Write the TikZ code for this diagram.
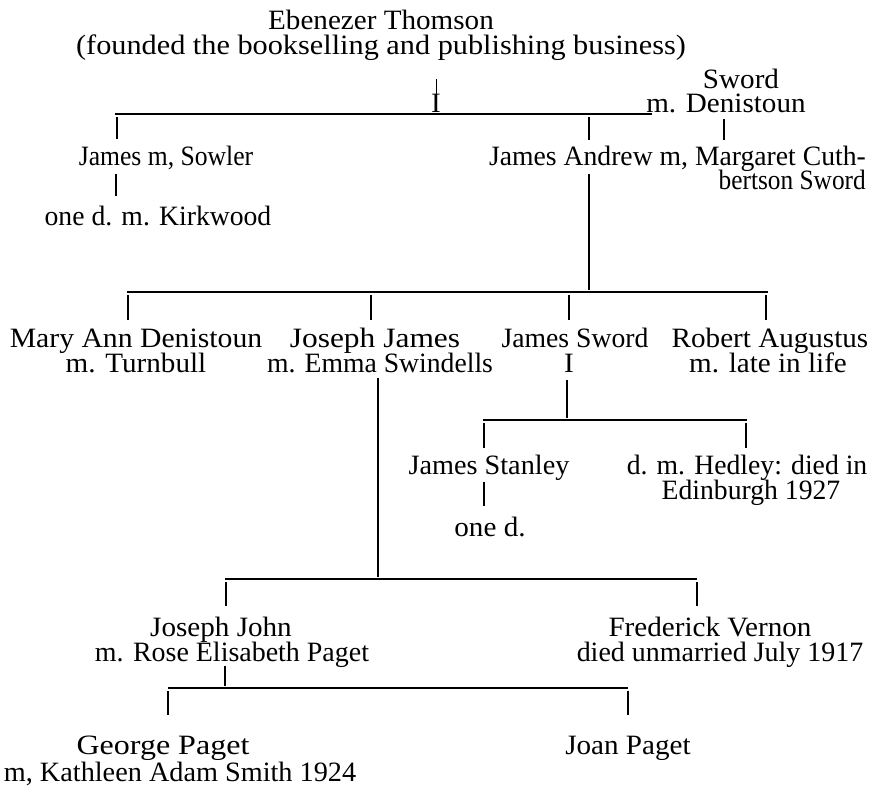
\documentclass[tikz,border=0pt]{standalone}
\usepackage{fontspec}
\setmainfont{Liberation Serif}[FakeStretch=1.04]
\begin{document}
\begin{tikzpicture}[x=1pt,y=-1pt,
  txt/.style={anchor=base,inner sep=0pt,font=\fontsize{28}{26}\selectfont},
  ln/.style={line width=1.4pt},
  thinln/.style={line width=0.7pt}]
\useasboundingbox[fill=white] (0,0) rectangle (873,799);
% texts
\node[txt] (eb) at (381,30) {Ebenezer Thomson};
\node[txt] (fo) at (381,55) {\scalebox{1.04}[1]{(founded the bookselling and publishing business)}};
\node[txt] (sw) at (741,89) {Sword};
\node[txt] (md) at (726,113) {m. Denistoun};
\node[txt] (i1) at (436,113) {I};
\node[txt] (jms) at (166,166) {\scalebox{0.88}[1]{James m, Sowler}};
\node[txt,anchor=base east] (ja) at (866,166) {\scalebox{0.95}[1]{James Andrew m, Margaret Cuth-}};
\node[txt,anchor=base east] (ja2) at (866,190) {\scalebox{0.87}[1]{bertson Sword}};
\node[txt] (kw) at (158,226) {\scalebox{0.95}[1]{one d. m. Kirkwood}};
\node[txt] (ma) at (136,348) {\scalebox{1.02}[1]{Mary Ann Denistoun}};
\node[txt] (ma2) at (136,373) {m. Turnbull};
\node[txt] (jj) at (375,348) {\scalebox{1.08}[1]{Joseph James}};
\node[txt] (jj2) at (380,373) {\scalebox{0.95}[1]{m. Emma Swindells}};
\node[txt] (js) at (575,348) {\scalebox{0.95}[1]{James Sword}};
\node[txt] (i2) at (569,373) {I};
\node[txt] (ra) at (770,348) {Robert Augustus};
\node[txt] (ra2) at (768,373) {m. late in life};
\node[txt] (jst) at (489,475) {\scalebox{0.97}[1]{James Stanley}};
\node[txt] (dh) at (747,475) {\scalebox{0.95}[1]{d. m. Hedley: died in}};
\node[txt] (dh2) at (751,499) {\scalebox{0.95}[1]{Edinburgh 1927}};
\node[txt] (od) at (490,536) {one d.};
\node[txt] (jo) at (221,636) {Joseph John};
\node[txt] (jo2) at (232,661) {\scalebox{0.96}[1]{m. Rose Elisabeth Paget}};
\node[txt] (fv) at (710,636) {Frederick Vernon};
\node[txt] (fv2) at (720,661) {\scalebox{0.96}[1]{died unmarried July 1917}};
\node[txt] (gp) at (163,754) {\scalebox{1.1}[1]{George Paget}};
\node[txt] (gp2) at (180,781) {\scalebox{0.97}[1]{m, Kathleen Adam Smith 1924}};
\node[txt] (jp) at (628,754) {Joan Paget};
% coordinates
\coordinate (t1a) at (436,79);  \coordinate (t1b) at (436,95);
\coordinate (b1l) at (115,114); \coordinate (b1r) at (652,114);
\coordinate (v1a) at (117,117); \coordinate (v1b) at (117,139);
\coordinate (v2a) at (589,117); \coordinate (v2b) at (589,140);
\coordinate (v3a) at (724,119); \coordinate (v3b) at (724,140);
\coordinate (v4a) at (116,174); \coordinate (v4b) at (116,196);
\coordinate (v5a) at (589,174); \coordinate (v5b) at (589,290);
\coordinate (b2l) at (127,292); \coordinate (b2r) at (768,292);
\coordinate (v6a) at (128,295); \coordinate (v6b) at (128,320);
\coordinate (v7a) at (371,295); \coordinate (v7b) at (371,320);
\coordinate (v8a) at (569,295); \coordinate (v8b) at (569,320);
\coordinate (v9a) at (766,295); \coordinate (v9b) at (766,320);
\coordinate (v10a) at (378,378); \coordinate (v10b) at (378,577);
\coordinate (v11a) at (567,380); \coordinate (v11b) at (567,418);
\coordinate (b3l) at (483,420); \coordinate (b3r) at (747,420);
\coordinate (v12a) at (484,423); \coordinate (v12b) at (484,448);
\coordinate (v13a) at (746,423); \coordinate (v13b) at (746,448);
\coordinate (v14a) at (484,482); \coordinate (v14b) at (484,506);
\coordinate (b4l) at (225,579); \coordinate (b4r) at (697,579);
\coordinate (v15a) at (226,582); \coordinate (v15b) at (226,606);
\coordinate (v16a) at (697,582); \coordinate (v16b) at (697,606);
\coordinate (v17a) at (225,666); \coordinate (v17b) at (225,686);
\coordinate (b5l) at (168,688); \coordinate (b5r) at (628,688);
\coordinate (v18a) at (168,691); \coordinate (v18b) at (168,715);
\coordinate (v19a) at (628,691); \coordinate (v19b) at (628,715);
% connectors
\draw[thinln] (t1a) -- (t1b);
\draw[ln] (b1l) -- (b1r);
\draw[ln] (v1a) -- (v1b);
\draw[ln] (v2a) -- (v2b);
\draw[ln] (v3a) -- (v3b);
\draw[ln] (v4a) -- (v4b);
\draw[ln] (v5a) -- (v5b);
\draw[ln] (b2l) -- (b2r);
\draw[ln] (v6a) -- (v6b);
\draw[ln] (v7a) -- (v7b);
\draw[ln] (v8a) -- (v8b);
\draw[ln] (v9a) -- (v9b);
\draw[ln] (v10a) -- (v10b);
\draw[ln] (v11a) -- (v11b);
\draw[ln] (b3l) -- (b3r);
\draw[ln] (v12a) -- (v12b);
\draw[ln] (v13a) -- (v13b);
\draw[ln] (v14a) -- (v14b);
\draw[ln] (b4l) -- (b4r);
\draw[ln] (v15a) -- (v15b);
\draw[ln] (v16a) -- (v16b);
\draw[ln] (v17a) -- (v17b);
\draw[ln] (b5l) -- (b5r);
\draw[ln] (v18a) -- (v18b);
\draw[ln] (v19a) -- (v19b);
\end{tikzpicture}
\end{document}
